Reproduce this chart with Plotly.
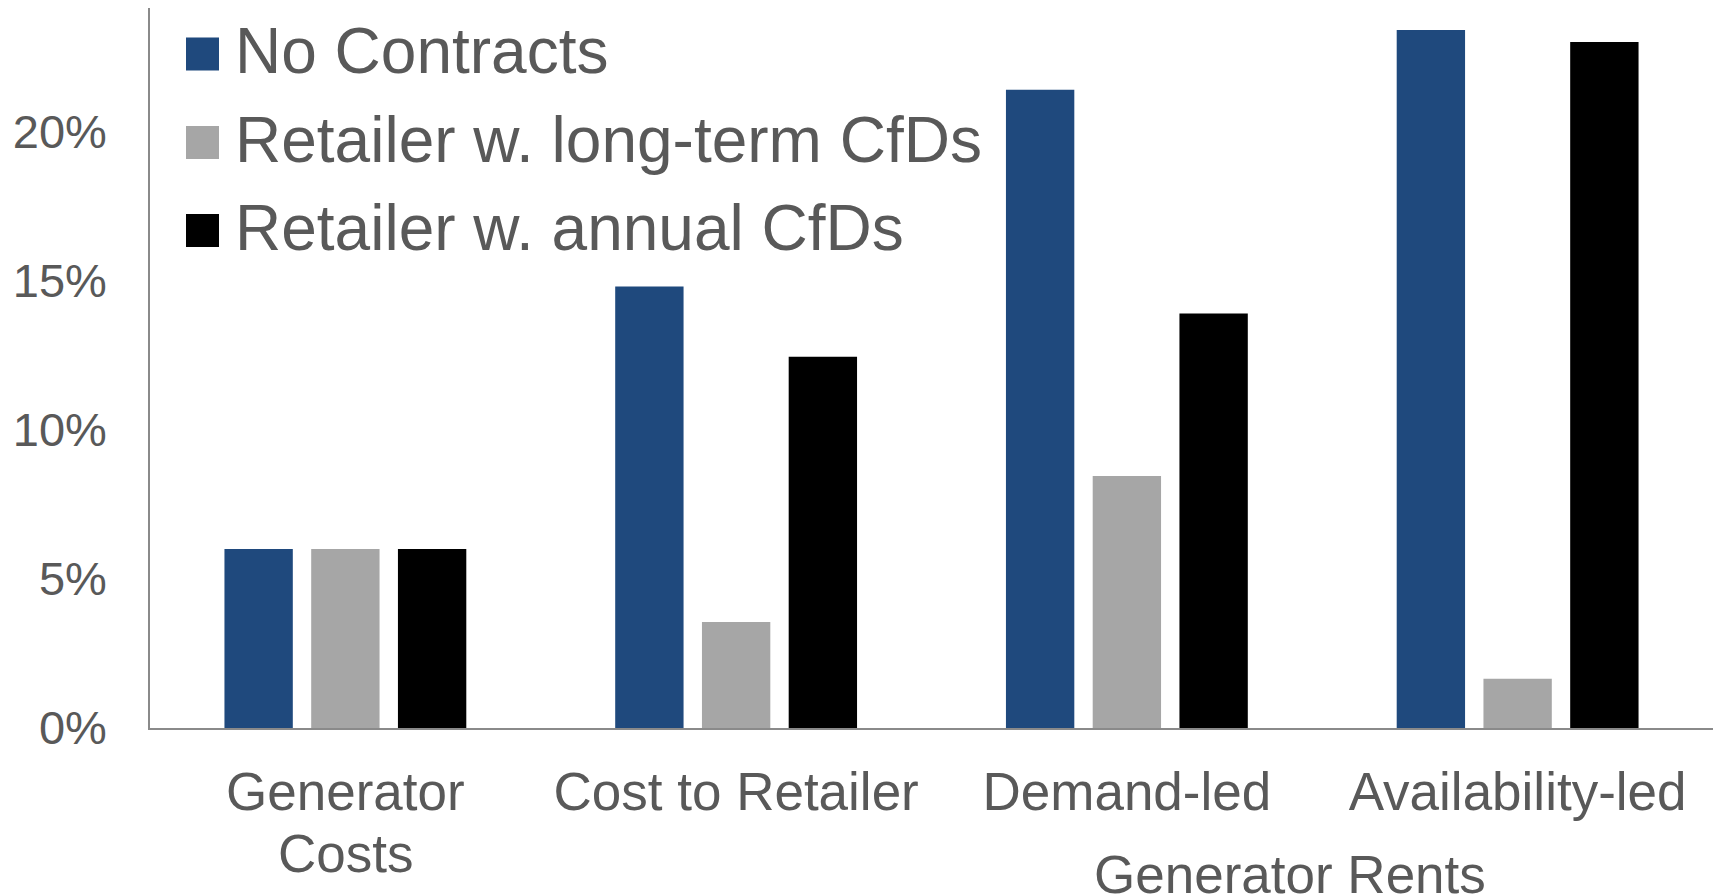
import plotly.graph_objects as go

# Categories and series values (percent)
categories = ["Generator Costs", "Cost to Retailer", "Demand-led", "Availability-led"]
category_labels = ["Generator", "Cost to Retailer", "Demand-led", "Availability-led"]
first_label_second_line = "Costs"
series_names = ["No Contracts", "Retailer w. long-term CfDs", "Retailer w. annual CfDs"]
no_contracts = [6.0, 14.8, 21.4, 23.4]
long_term_cfds = [6.0, 3.55, 8.45, 1.65]
annual_cfds = [6.0, 12.45, 13.9, 23.0]
group_label = "Generator Rents"
y_ticks = [0, 5, 10, 15, 20]
y_tick_text = [f"{v}%" for v in y_ticks]

colors = ["#1F497D", "#A6A6A6", "#000000"]
text_color = "#595959"
font_family = "Liberation Sans, Arial, sans-serif"

W, H = 1719, 895
M_L, M_R, M_T, M_B = 150, 6, 8, 167
plot_w = W - M_L - M_R
plot_h = H - M_T - M_B


def px_x(px):
    return (px - M_L) / plot_w


def px_y(py):
    return (H - M_B - py) / plot_h


fig = go.Figure()
for name, vals, col in zip(series_names, [no_contracts, long_term_cfds, annual_cfds], colors):
    fig.add_trace(go.Bar(
        name=name,
        x=categories,
        y=vals,
        marker=dict(color=col, line=dict(width=0)),
        showlegend=False,
    ))

# Legend drawn as large squares with labels
legend_rows_px = [54, 142.5, 230.5]
sq = 33
for name, col, cy in zip(series_names, colors, legend_rows_px):
    fig.add_shape(
        type="rect", xref="paper", yref="paper",
        x0=px_x(186), x1=px_x(186 + sq),
        y0=px_y(cy + sq / 2), y1=px_y(cy - sq / 2),
        fillcolor=col, line=dict(width=0),
    )
    fig.add_annotation(
        text=name, xref="paper", yref="paper",
        x=px_x(233), y=px_y(cy - 3),
        xanchor="left", yanchor="middle", showarrow=False,
        font=dict(size=64, color=text_color, family=font_family),
    )

# Second line of the first category label, set tighter than the default line height
fig.add_annotation(
    text=first_label_second_line, xref="x", yref="paper",
    x=categories[0], y=px_y(853),
    xanchor="center", yanchor="middle", showarrow=False,
    font=dict(size=53, color=text_color, family=font_family),
)

# Grouping label under the two rent categories
fig.add_annotation(
    text=group_label, xref="paper", yref="paper",
    x=px_x(1290), y=px_y(874),
    xanchor="center", yanchor="middle", showarrow=False,
    font=dict(size=53, color=text_color, family=font_family),
)

fig.update_layout(
    width=W, height=H,
    margin=dict(l=M_L, r=M_R, t=M_T, b=M_B, pad=0),
    paper_bgcolor="white", plot_bgcolor="white",
    barmode="group", bargap=0.334, bargroupgap=0.212,
    font=dict(family=font_family, color=text_color),
    xaxis=dict(
        type="category",
        categoryorder="array", categoryarray=categories,
        tickmode="array", tickvals=categories, ticktext=category_labels,
        showline=True, linecolor="#8A8A8A", linewidth=1.5,
        showgrid=False, zeroline=False, ticks="",
        tickfont=dict(size=53, color=text_color, family=font_family),
        ticklabelstandoff=17,
        automargin=False,
    ),
    yaxis=dict(
        range=[0, 24.14],
        tickmode="array", tickvals=y_ticks, ticktext=y_tick_text,
        showline=True, linecolor="#8A8A8A", linewidth=1.5,
        showgrid=False, zeroline=False, ticks="",
        tickfont=dict(size=47, color=text_color, family=font_family),
        ticklabelstandoff=32,
        automargin=False,
    ),
)

fig.write_html("out.html")
